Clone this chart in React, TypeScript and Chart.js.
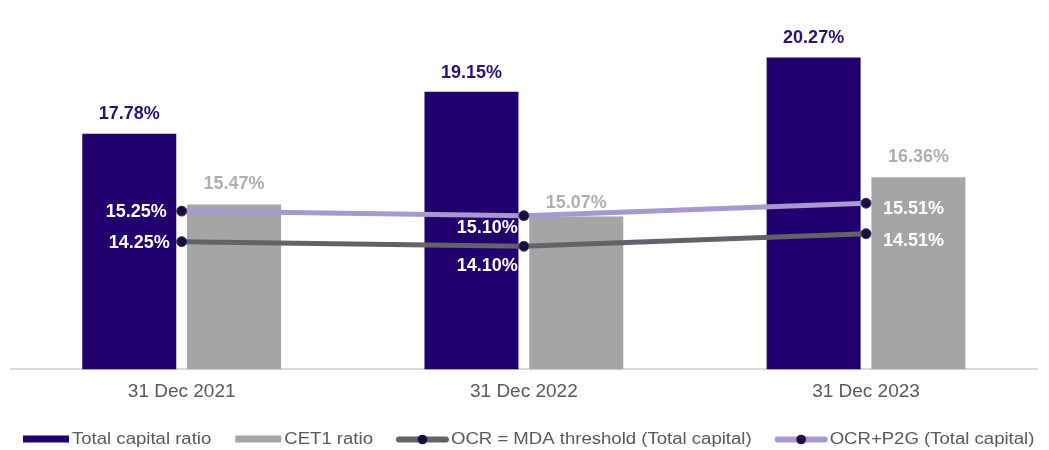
import React, { useEffect, useRef } from 'react';
import { Chart, registerables } from 'chart.js';

Chart.register(...registerables);

// ---- data ----
const categories = ['31 Dec 2021', '31 Dec 2022', '31 Dec 2023'];
const totalCapitalRatio = [17.78, 19.15, 20.27];
const cet1Ratio = [15.47, 15.07, 16.36];
const ocrMdaThreshold = [14.25, 14.1, 14.51];
const ocrP2g = [15.25, 15.1, 15.51];
const seriesLabels = [
  'Total capital ratio',
  'CET1 ratio',
  'OCR = MDA threshold (Total capital)',
  'OCR+P2G (Total capital)',
];

// ---- axis range ----
const Y_MIN = 10.08;
const Y_MAX = 21.5;

// ---- styles ----
const COLORS = {
  total: '#22006E',
  cet1: '#A5A5A8',
  mda: '#606367',
  p2g: '#A898D0',
  point: '#1B0B3E',
  pointBorder: '#3A3A48',
  totalLabel: '#2A1178',
  cet1Label: '#AEAEB1',
  axisText: '#595959',
  axisLine: '#D9D9D9',
  legendText: '#595959',
};

const LABEL_FONT = 'bold 18px "Liberation Sans", Arial, sans-serif';
const LEGEND_FONT = '16px "Liberation Sans", Arial, sans-serif';
const LEGEND_STRETCH = 1.16;

// label placement (pixels), per point
const barLabelLift = [
  [20, 19, 20],
  [20, 14, 20],
];
const lineLabelPlacement: Record<number, { align: CanvasTextAlign; dx: number; dy: number }[]> = {
  2: [
    { align: 'right', dx: -12, dy: 1 },
    { align: 'right', dx: -6, dy: 20 },
    { align: 'left', dx: 17, dy: 7 },
  ],
  3: [
    { align: 'right', dx: -15, dy: 1 },
    { align: 'right', dx: -6, dy: 12 },
    { align: 'left', dx: 17, dy: 6 },
  ],
};

const fmt = (v: number) => v.toFixed(2) + '%';

const valueLabelPlugin = {
  id: 'valueLabels',
  afterDatasetsDraw(chart: any) {
    const ctx = chart.ctx as CanvasRenderingContext2D;
    ctx.save();
    ctx.font = LABEL_FONT;
    ctx.textBaseline = 'middle';
    chart.data.datasets.forEach((ds: any, i: number) => {
      const meta = chart.getDatasetMeta(i);
      meta.data.forEach((el: any, j: number) => {
        const v = ds.data[j] as number;
        if (i < 2) {
          ctx.textAlign = 'center';
          ctx.fillStyle = i === 0 ? COLORS.totalLabel : COLORS.cet1Label;
          ctx.fillText(fmt(v), el.x, el.y - barLabelLift[i][j]);
        } else {
          const p = lineLabelPlacement[i][j];
          ctx.textAlign = p.align;
          ctx.fillStyle = '#FFFFFF';
          ctx.fillText(fmt(v), el.x + p.dx, el.y + p.dy);
        }
      });
    });
    ctx.restore();
  },
};

const legendPlugin = {
  id: 'customLegend',
  afterDraw(chart: any) {
    const ctx = chart.ctx as CanvasRenderingContext2D;
    const cy = 439;
    let x = 23;
    ctx.save();
    ctx.font = LEGEND_FONT;
    ctx.textBaseline = 'middle';
    ctx.textAlign = 'left';
    chart.data.datasets.forEach((ds: any, i: number) => {
      if (i < 2) {
        ctx.fillStyle = ds.backgroundColor;
        ctx.fillRect(x, cy - 3.5, 46, 7);
        x += 46;
      } else {
        ctx.strokeStyle = ds.borderColor;
        ctx.lineWidth = 6;
        ctx.lineCap = 'round';
        ctx.beginPath();
        ctx.moveTo(x + 2, cy + 0.5);
        ctx.lineTo(x + 49, cy + 0.5);
        ctx.stroke();
        ctx.fillStyle = COLORS.point;
        ctx.beginPath();
        ctx.arc(x + 25.5, cy + 0.5, 4.8, 0, Math.PI * 2);
        ctx.fill();
        x += 51;
      }
      x += 3;
      const label = seriesLabels[i];
      const w = ctx.measureText(label).width * LEGEND_STRETCH;
      ctx.fillStyle = COLORS.legendText;
      ctx.save();
      ctx.translate(x, cy + 0.5);
      ctx.scale(LEGEND_STRETCH, 1);
      ctx.fillText(label, 0, 0);
      ctx.restore();
      x += w + 24;
    });
    ctx.restore();
  },
};

export default function App() {
  const canvasRef = useRef<HTMLCanvasElement | null>(null);

  useEffect(() => {
    document.body.style.margin = '0';
    const canvas = canvasRef.current;
    if (!canvas) return;
    const chart = new Chart(canvas, {
      type: 'bar',
      data: {
        labels: categories,
        datasets: [
          {
            type: 'bar',
            label: seriesLabels[0],
            data: totalCapitalRatio,
            backgroundColor: COLORS.total,
            barPercentage: 0.897,
            categoryPercentage: 0.6125,
            order: 2,
          },
          {
            type: 'bar',
            label: seriesLabels[1],
            data: cet1Ratio,
            backgroundColor: COLORS.cet1,
            barPercentage: 0.897,
            categoryPercentage: 0.6125,
            order: 2,
          },
          {
            type: 'line',
            label: seriesLabels[2],
            data: ocrMdaThreshold,
            borderColor: COLORS.mda,
            backgroundColor: COLORS.mda,
            borderWidth: 5,
            pointRadius: 5,
            pointBackgroundColor: COLORS.point,
            pointBorderColor: COLORS.pointBorder,
            pointBorderWidth: 1,
            tension: 0,
            order: 1,
          } as any,
          {
            type: 'line',
            label: seriesLabels[3],
            data: ocrP2g,
            borderColor: COLORS.p2g,
            backgroundColor: COLORS.p2g,
            borderWidth: 5,
            pointRadius: 5,
            pointBackgroundColor: COLORS.point,
            pointBorderColor: COLORS.pointBorder,
            pointBorderWidth: 1,
            tension: 0,
            order: 0,
          } as any,
        ],
      },
      options: {
        animation: false,
        responsive: true,
        maintainAspectRatio: false,
        layout: {
          padding: { left: 10.6, right: 11.9, top: 20, bottom: 36 },
        },
        plugins: {
          legend: { display: false },
          tooltip: { enabled: false },
          title: { display: false },
        },
        scales: {
          x: {
            offset: true,
            grid: { display: false, drawTicks: false },
            border: { display: true, color: COLORS.axisLine, width: 2 },
            ticks: {
              padding: 11,
              color: COLORS.axisText,
              font: {
                family: '"Liberation Sans", Arial, sans-serif',
                size: 19,
              },
            },
          },
          y: {
            display: false,
            min: Y_MIN,
            max: Y_MAX,
          },
        },
      },
      plugins: [valueLabelPlugin, legendPlugin],
    });
    return () => chart.destroy();
  }, []);

  return (
    <div style={{ position: 'absolute', left: 0, top: 0, width: 1049, height: 450 }}>
      <canvas ref={canvasRef} />
    </div>
  );
}
